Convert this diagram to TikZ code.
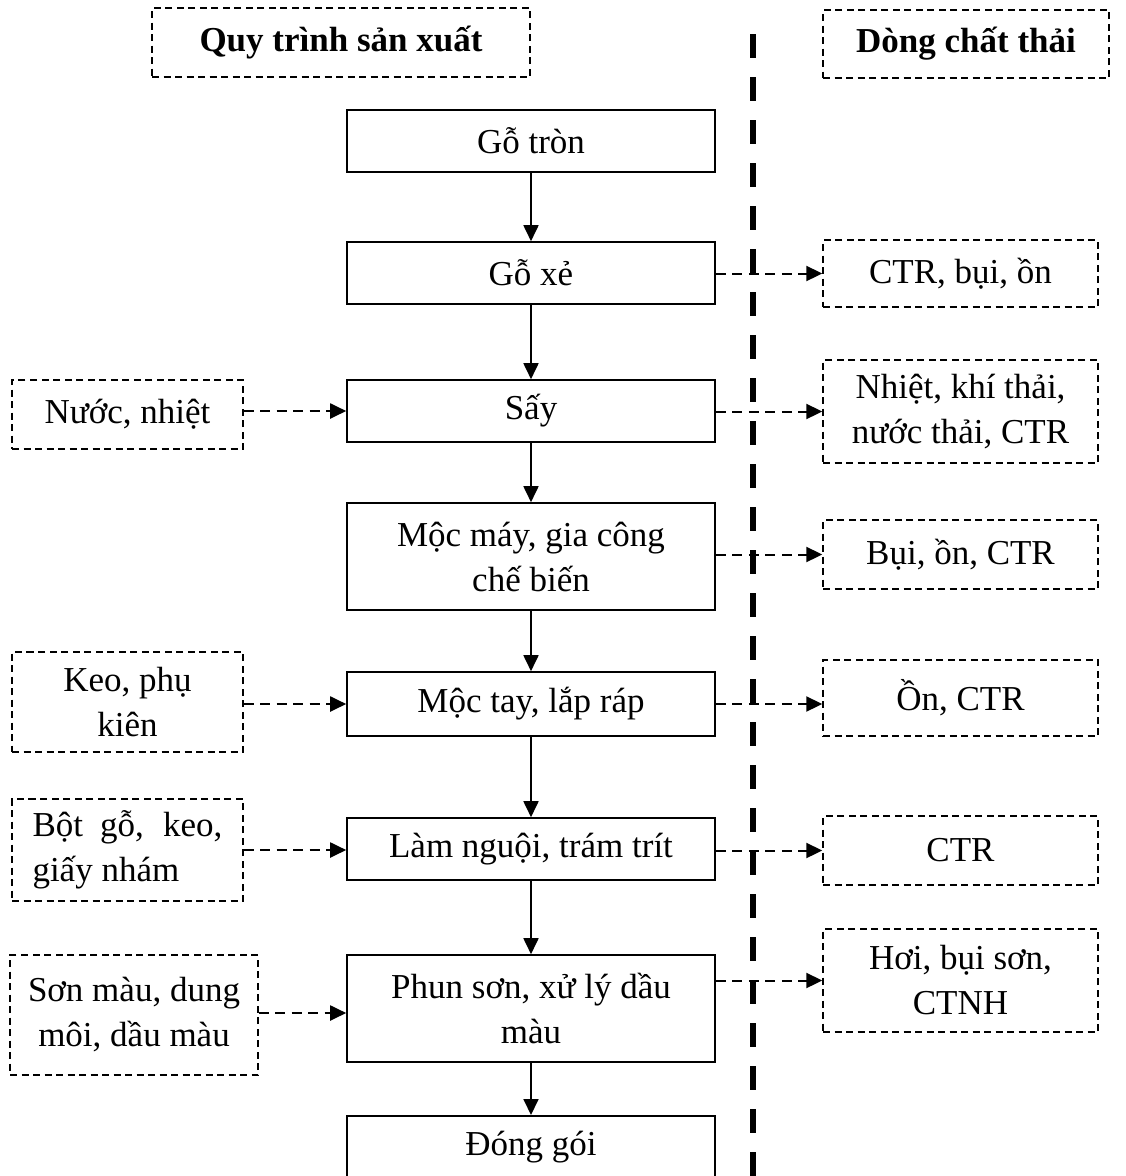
\documentclass[tikz,border=0pt]{standalone}
\usepackage{fontspec}
\setmainfont{Liberation Serif}
\usetikzlibrary{arrows.meta,calc}
\begin{document}
\begin{tikzpicture}[x=1pt,y=-1pt,
  every node/.style={font=\fontsize{35}{45}\selectfont, inner sep=0pt, align=center},
  mainbox/.style={draw, line width=1.6pt, minimum width=368pt},
  sidebox/.style={draw, line width=1.4pt, dash pattern=on 7pt off 4.5pt},
  head/.style={sidebox, font=\fontsize{35}{42}\bfseries\selectfont},
  flow/.style={line width=1.8pt, -{Triangle[length=16pt,width=15pt]}},
  side/.style={line width=2pt, dash pattern=on 10pt off 6.5pt, -{Triangle[length=16pt,width=15pt]}},
  divider/.style={line width=6pt, dash pattern=on 24pt off 19pt}
]
\useasboundingbox (0,0) rectangle (1126,1176);
\fill[white] (0,0) rectangle (1126,1176);

% headers
\node[head, minimum width=378pt, minimum height=69pt] (h1) at (341,42.5) {Quy trình sản xuất};
\node[head, minimum width=286pt, minimum height=68pt] (h2) at (966,44) {Dòng chất thải};

% divider
\coordinate (dtop) at (753,34);
\coordinate (dbot) at (753,1190);
\draw[divider] (dtop) -- (dbot);

% main column
\node[mainbox, minimum height=62pt] (m1) at (531,141) {Gỗ tròn};
\node[mainbox, minimum height=62pt] (m2) at (531,273) {Gỗ xẻ};
\node[mainbox, minimum height=62pt] (m3) at (531,411) {Sấy};
\node[mainbox, minimum height=107pt] (m4) at (531,556.5) {Mộc máy, gia công\\chế biến};
\node[mainbox, minimum height=64pt] (m5) at (531,704) {Mộc tay, lắp ráp};
\node[mainbox, minimum height=62pt] (m6) at (531,849) {Làm nguội, trám trít};
\node[mainbox, minimum height=107pt] (m7) at (531,1008.5) {Phun sơn, xử lý dầu\\màu};
\node[mainbox, minimum height=62pt, anchor=north] (m8) at (531,1115) {Đóng gói};

\draw[flow] (m1) -- (m2);
\draw[flow] (m2) -- (m3);
\draw[flow] (m3) -- (m4);
\draw[flow] (m4) -- (m5);
\draw[flow] (m5) -- (m6);
\draw[flow] (m6) -- (m7);
\draw[flow] (m7) -- (m8);

% left inputs
\node[sidebox, minimum width=231pt, minimum height=69pt] (l1) at (127.5,414.5) {Nước, nhiệt};
\node[sidebox, minimum width=231pt, minimum height=100pt] (l2) at (127.5,702) {\raisebox{-4pt}{\parbox{200pt}{\centering Keo, phụ\\kiên}}};
\node[sidebox, minimum width=231pt, minimum height=102pt, align=left] (l3) at (127.5,850) {\makebox[190pt][s]{Bột gỗ, keo,}\\giấy nhám};
\node[sidebox, minimum width=248pt, minimum height=120pt] (l4) at (134,1015) {Sơn màu, dung\\môi, dầu màu};

\draw[side] (l1.east |- m3.west) -- (m3.west);
\draw[side] (l2.east |- m5.west) -- (m5.west);
\draw[side] (l3.east) -- (l3.east -| m6.west);
\draw[side] (l4.east |- 0,1013) -- (m7.west |- 0,1013);

% right outputs
\node[sidebox, minimum width=275pt, minimum height=67pt] (r1) at (960.5,273.5) {CTR, bụi, ồn};
\node[sidebox, minimum width=275pt, minimum height=103pt] (r2) at (960.5,411.5) {Nhiệt, khí thải,\\nước thải, CTR};
\node[sidebox, minimum width=275pt, minimum height=69pt] (r3) at (960.5,554.5) {Bụi, ồn, CTR};
\node[sidebox, minimum width=275pt, minimum height=76pt] (r4) at (960.5,698) {Ồn, CTR};
\node[sidebox, minimum width=275pt, minimum height=69pt] (r5) at (960.5,850.5) {CTR};
\node[sidebox, minimum width=275pt, minimum height=103pt] (r6) at (960.5,980.5) {Hơi, bụi sơn,\\CTNH};

\draw[side] (m2.east |- r1.west) -- (r1.west);
\draw[side] (m3.east |- r2.west) -- (r2.west);
\draw[side] (m4.east |- r3.west) -- (r3.west);
\draw[side] (m5.east) -- (m5.east -| r4.west);
\draw[side] (m6.east |- r5.west) -- (r5.west);
\draw[side] (m7.east |- r6.west) -- (r6.west);
\end{tikzpicture}
\end{document}
